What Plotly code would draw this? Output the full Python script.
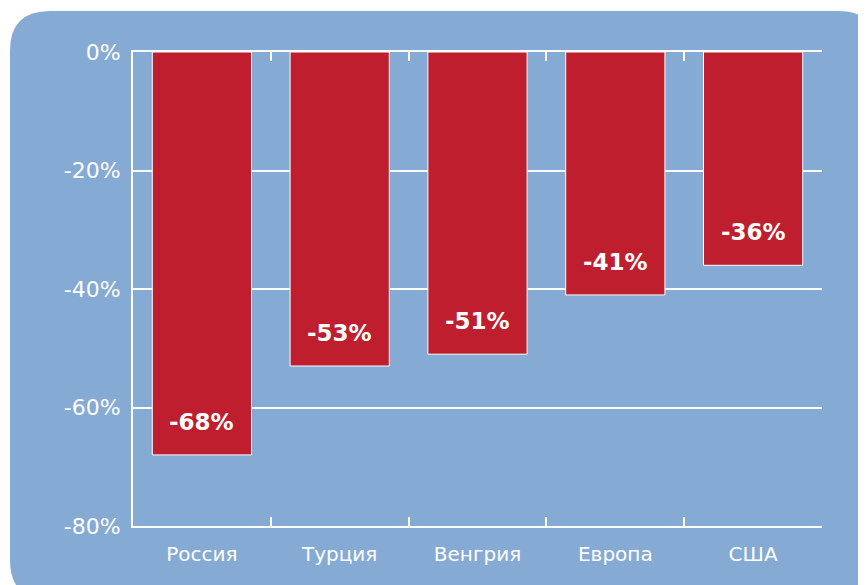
import plotly.graph_objects as go

countries = ["Россия", "Турция", "Венгрия", "Европа", "США"]
change_pct = [-68, -53, -51, -41, -36]
y_ticks = [0, -20, -40, -60, -80]
y_tick_labels = ["0%", "-20%", "-40%", "-60%", "-80%"]

OFF = 8  # page body margin
W, H = 866 - OFF, 585 - OFF
L, R, T, B = 133 - OFF, 822 - OFF, 52 - OFF, 526 - OFF  # plot area in figure pixels
BLUE = "#85AAD4"
RED = "#BE1E2D"
FONT = "DejaVu Sans"


def px_to_paper(x, y):
    return (x - L) / (R - L), (B - y) / (B - T)


def rounded_rect(x0, y0, x1, y1, r):
    pts = [
        ("M", (x0 + r, y0)),
        ("L", (x1 - r, y0)),
        ("Q", (x1, y0), (x1, y0 + r)),
        ("L", (x1, y1 - r)),
        ("Q", (x1, y1), (x1 - r, y1)),
        ("L", (x0 + r, y1)),
        ("Q", (x0, y1), (x0, y1 - r)),
        ("L", (x0, y0 + r)),
        ("Q", (x0, y0), (x0 + r, y0)),
    ]
    out = []
    for cmd, *coords in pts:
        s = " ".join("{:.5f},{:.5f}".format(*px_to_paper(*c)) for c in coords)
        out.append(f"{cmd} {s}")
    return " ".join(out) + " Z"


fig = go.Figure()
fig.add_bar(
    x=countries,
    y=change_pct,
    width=0.72,
    marker={"color": RED, "line": {"color": "white", "width": 1}},
    showlegend=False,
    hoverinfo="skip",
)
# invisible trace so the top axis (ticks at 0%) gets drawn
fig.add_scatter(
    x=countries,
    y=[0] * len(countries),
    xaxis="x2",
    mode="markers",
    marker={"opacity": 0},
    showlegend=False,
    hoverinfo="skip",
)

for c, v in zip(countries, change_pct):
    fig.add_annotation(
        x=c,
        y=v,
        text=f"<b>{v}%</b>",
        showarrow=False,
        yanchor="middle",
        yshift=33,
        font={"family": FONT, "size": 23, "color": "white"},
    )

fig.add_shape(
    type="path",
    xref="paper",
    yref="paper",
    path=rounded_rect(10 - OFF, 11 - OFF, 878 - OFF, 600 - OFF, 40),
    fillcolor=BLUE,
    line={"width": 0},
    layer="below",
)

axis_style = dict(
    showline=True,
    linecolor="white",
    linewidth=2,
    ticks="inside",
    tickson="boundaries",
    ticklen=9,
    tickwidth=2,
    tickcolor="white",
    showgrid=False,
    type="category",
    categoryarray=countries,
    range=[-0.5, len(countries) - 0.5],
)

fig.update_layout(
    width=W,
    height=H,
    margin={"l": L, "r": W - R, "t": T, "b": H - B},
    paper_bgcolor="white",
    plot_bgcolor="rgba(0,0,0,0)",
    font={"family": FONT, "color": "white"},
    xaxis=dict(
        **axis_style,
        tickfont={"size": 20, "color": "white"},
        ticklabelstandoff=9,
    ),
    xaxis2=dict(
        **axis_style,
        overlaying="x",
        side="top",
        showticklabels=False,
    ),
    yaxis=dict(
        range=[-80, 0],
        tickvals=y_ticks,
        ticktext=y_tick_labels,
        showline=True,
        linecolor="white",
        linewidth=2,
        showgrid=True,
        gridcolor="white",
        gridwidth=2,
        zeroline=False,
        ticks="",
        tickfont={"size": 22, "color": "white"},
        ticklabelstandoff=6,
    ),
)

fig.write_html("out.html")
